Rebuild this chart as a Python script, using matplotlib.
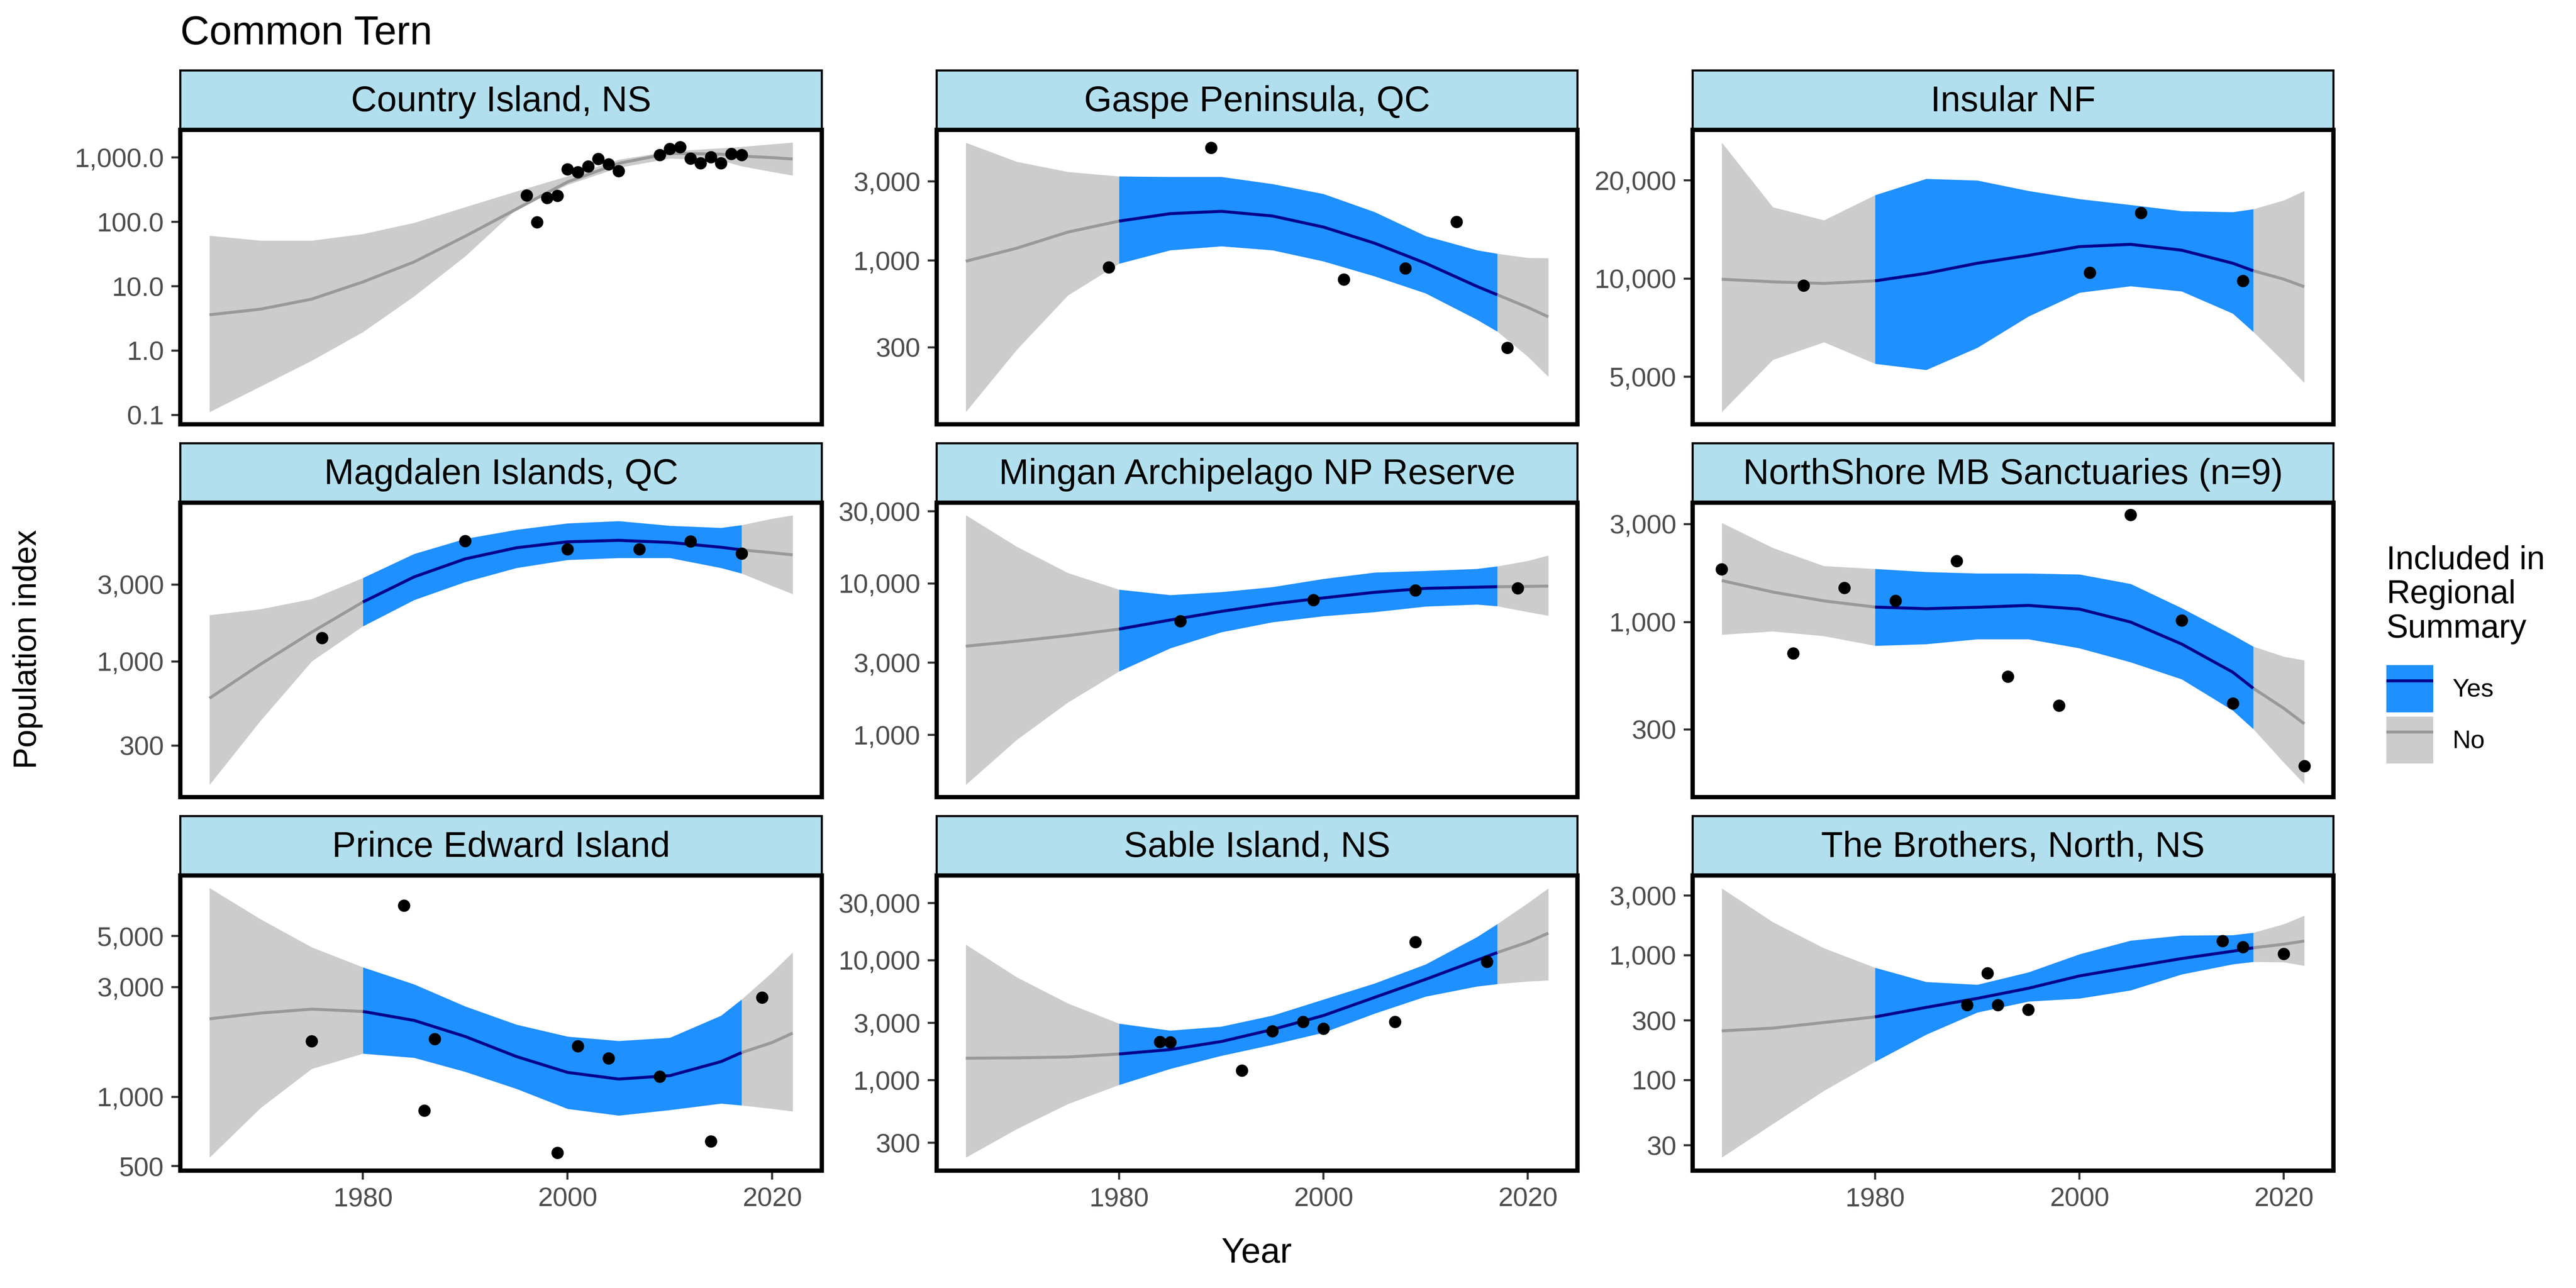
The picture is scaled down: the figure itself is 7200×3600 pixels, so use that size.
import numpy as np
import matplotlib
matplotlib.use("Agg")
import matplotlib.pyplot as plt
from matplotlib.patches import Patch
from matplotlib.lines import Line2D
from matplotlib.legend_handler import HandlerTuple

plt.rcParams['font.family'] = ['Liberation Sans', 'DejaVu Sans']

years = [1965, 1970, 1975, 1980, 1985, 1990, 1995, 2000, 2005, 2010, 2015, 2017, 2020, 2022]

# all index values below are log10(population index)
country_fit = [0.556, 0.644, 0.800, 1.067, 1.378, 1.778, 2.200, 2.622, 2.911, 3.067, 3.053, 3.022, 3.000, 2.978]
country_up = [1.787, 1.711, 1.711, 1.813, 1.987, 2.231, 2.476, 2.711, 2.969, 3.098, 3.147, 3.169, 3.209, 3.236]
country_lo = [-0.956, -0.556, -0.156, 0.289, 0.844, 1.467, 2.200, 2.578, 2.844, 2.987, 2.956, 2.867, 2.778, 2.724]
country_x = [1996, 1997, 1998, 1999, 2000, 2001, 2002, 2003, 2004, 2005, 2009, 2010, 2011, 2012, 2013, 2014, 2015, 2016, 2017]
country_y = [2.413, 1.996, 2.373, 2.409, 2.818, 2.773, 2.862, 2.978, 2.898, 2.791, 3.044, 3.138, 3.164, 2.987, 2.911, 3.009, 2.911, 3.058, 3.044]

gaspe_fit = [2.996, 3.075, 3.172, 3.238, 3.283, 3.297, 3.269, 3.202, 3.105, 2.984, 2.845, 2.794, 2.718, 2.661]
gaspe_up = [3.711, 3.596, 3.535, 3.508, 3.505, 3.505, 3.462, 3.402, 3.293, 3.148, 3.063, 3.042, 3.017, 3.015]
gaspe_lo = [2.088, 2.464, 2.791, 2.982, 3.063, 3.087, 3.063, 2.996, 2.906, 2.803, 2.645, 2.573, 2.421, 2.300]
gaspe_x = [1979, 1989, 2002, 2008, 2013, 2018]
gaspe_y = [2.960, 3.680, 2.887, 2.954, 3.234, 2.475]

insular_fit = [3.998, 3.990, 3.985, 3.993, 4.016, 4.047, 4.071, 4.098, 4.105, 4.087, 4.047, 4.024, 3.998, 3.975]
insular_up = [4.417, 4.219, 4.179, 4.256, 4.306, 4.301, 4.269, 4.244, 4.226, 4.207, 4.204, 4.213, 4.240, 4.269]
insular_lo = [3.591, 3.751, 3.805, 3.739, 3.720, 3.788, 3.884, 3.957, 3.977, 3.961, 3.893, 3.837, 3.745, 3.680]
insular_x = [1973, 2001, 2006, 2016]
insular_y = [3.979, 4.018, 4.201, 3.993]

magdalen_fit = [2.771, 2.983, 3.182, 3.369, 3.525, 3.637, 3.706, 3.743, 3.752, 3.739, 3.709, 3.693, 3.675, 3.662]
magdalen_up = [3.288, 3.325, 3.388, 3.519, 3.668, 3.762, 3.818, 3.858, 3.872, 3.843, 3.830, 3.847, 3.887, 3.908]
magdalen_lo = [2.234, 2.633, 3.001, 3.219, 3.382, 3.494, 3.581, 3.631, 3.643, 3.643, 3.581, 3.547, 3.469, 3.419]
magdalen_x = [1976, 1990, 2000, 2007, 2012, 2017]
magdalen_y = [3.147, 3.748, 3.697, 3.697, 3.746, 3.671]

mingan_fit = [3.586, 3.619, 3.656, 3.699, 3.759, 3.816, 3.865, 3.905, 3.942, 3.968, 3.976, 3.979, 3.981, 3.983]
mingan_up = [4.452, 4.243, 4.070, 3.960, 3.924, 3.944, 3.977, 4.031, 4.073, 4.084, 4.097, 4.114, 4.150, 4.186]
mingan_lo = [2.671, 2.969, 3.215, 3.420, 3.573, 3.679, 3.745, 3.785, 3.812, 3.849, 3.862, 3.851, 3.812, 3.788]
mingan_x = [1986, 1999, 2009, 2019]
mingan_y = [3.752, 3.890, 3.955, 3.968]

north_fit = [3.202, 3.146, 3.103, 3.073, 3.065, 3.072, 3.081, 3.063, 3.000, 2.893, 2.756, 2.678, 2.580, 2.505]
north_up = [3.483, 3.361, 3.273, 3.259, 3.244, 3.237, 3.237, 3.232, 3.186, 3.068, 2.937, 2.881, 2.832, 2.814]
north_lo = [2.939, 2.955, 2.932, 2.885, 2.893, 2.917, 2.917, 2.873, 2.805, 2.722, 2.570, 2.480, 2.316, 2.212]
north_x = [1965, 1972, 1977, 1982, 1988, 1993, 1998, 2005, 2010, 2015, 2022]
north_y = [3.257, 2.848, 3.167, 3.104, 3.298, 2.735, 2.594, 3.521, 3.008, 2.604, 2.299]

pei_fit = [3.339, 3.364, 3.381, 3.371, 3.332, 3.262, 3.175, 3.106, 3.077, 3.092, 3.153, 3.192, 3.236, 3.277]
pei_up = [3.908, 3.772, 3.650, 3.563, 3.489, 3.393, 3.314, 3.262, 3.243, 3.257, 3.353, 3.423, 3.541, 3.628]
pei_lo = [2.736, 2.952, 3.122, 3.188, 3.170, 3.109, 3.035, 2.948, 2.919, 2.943, 2.971, 2.963, 2.948, 2.937]
pei_x = [1975, 1984, 1986, 1987, 1999, 2001, 2004, 2009, 2014, 2019]
pei_y = [3.242, 3.831, 2.940, 3.251, 2.757, 3.220, 3.168, 3.088, 2.806, 3.431]

sable_fit = [3.183, 3.186, 3.193, 3.218, 3.255, 3.322, 3.422, 3.539, 3.690, 3.841, 4.000, 4.064, 4.151, 4.226]
sable_up = [4.131, 3.858, 3.640, 3.472, 3.414, 3.447, 3.539, 3.673, 3.807, 3.966, 4.193, 4.302, 4.477, 4.600]
sable_lo = [2.355, 2.593, 2.802, 2.961, 3.095, 3.204, 3.296, 3.397, 3.556, 3.698, 3.782, 3.802, 3.824, 3.832]
sable_x = [1984, 1985, 1992, 1995, 1998, 2000, 2007, 2009, 2016]
sable_y = [3.320, 3.317, 3.080, 3.410, 3.487, 3.430, 3.486, 4.151, 3.987]

brothers_fit = [2.394, 2.416, 2.461, 2.506, 2.582, 2.654, 2.735, 2.834, 2.904, 2.973, 3.032, 3.059, 3.088, 3.113]
brothers_up = [3.535, 3.265, 3.056, 2.900, 2.786, 2.764, 2.863, 3.008, 3.117, 3.158, 3.161, 3.180, 3.249, 3.317]
brothers_lo = [1.381, 1.650, 1.915, 2.148, 2.365, 2.542, 2.630, 2.654, 2.719, 2.847, 2.928, 2.947, 2.944, 2.916]
brothers_x = [1989, 1991, 1992, 1995, 2014, 2016, 2020]
brothers_y = [2.601, 2.855, 2.601, 2.564, 3.113, 3.064, 3.011]

names = ["Country Island, NS", "Gaspe Peninsula, QC", "Insular NF",
         "Magdalen Islands, QC", "Mingan Archipelago NP Reserve", "NorthShore MB Sanctuaries (n=9)",
         "Prince Edward Island", "Sable Island, NS", "The Brothers, North, NS"]
fits = [country_fit, gaspe_fit, insular_fit, magdalen_fit, mingan_fit, north_fit, pei_fit, sable_fit, brothers_fit]
uppers = [country_up, gaspe_up, insular_up, magdalen_up, mingan_up, north_up, pei_up, sable_up, brothers_up]
lowers = [country_lo, gaspe_lo, insular_lo, magdalen_lo, mingan_lo, north_lo, pei_lo, sable_lo, brothers_lo]
point_x = [country_x, gaspe_x, insular_x, magdalen_x, mingan_x, north_x, pei_x, sable_x, brothers_x]
point_y = [country_y, gaspe_y, insular_y, magdalen_y, mingan_y, north_y, pei_y, sable_y, brothers_y]
included = [False, True, True, True, True, True, True, True, True]

y_ticks = [[0.1, 1, 10, 100, 1000], [300, 1000, 3000], [5000, 10000, 20000],
           [300, 1000, 3000], [1000, 3000, 10000, 30000], [300, 1000, 3000],
           [500, 1000, 3000, 5000], [300, 1000, 3000, 10000, 30000], [30, 100, 300, 1000, 3000]]
y_limits = [(-1.147, 3.431), (2.013, 3.788), (3.553, 4.456),
            (2.157, 3.986), (2.589, 4.534), (2.148, 3.581),
            (2.679, 3.962), (2.245, 4.707), (1.275, 3.638)]

fig_w, fig_h = 7200, 3600
col_edges = [(504, 2297), (2618, 4409), (4731, 6522)]
row_edges = [(363, 1186), (1405, 2228), (2447, 3272)]
strip_h = 166
dpi = 300

BLUE = "#1E90FF"
NAVY = "#00008B"
GREY_FILL = "#CCCCCC"
GREY_LINE = "#999999"
STRIP = "#B2DFEE"
TICK_TEXT = "#4D4D4D"
TICK_LINE = "#333333"


def box(left, right, top, bottom):
    return [left / fig_w, 1 - bottom / fig_h, (right - left) / fig_w, (bottom - top) / fig_h]


fig = plt.figure(figsize=(fig_w / dpi, fig_h / dpi), dpi=dpi, facecolor="white")
yrs = np.array(years)

for i in range(9):
    row, col = i // 3, i % 3
    left, right = col_edges[col]
    top, bottom = row_edges[row]

    strip_ax = fig.add_axes(box(left, right, top - strip_h, top), zorder=1)
    strip_ax.set_facecolor(STRIP)
    strip_ax.set_xticks([])
    strip_ax.set_yticks([])
    for sp in strip_ax.spines.values():
        sp.set_linewidth(1.4)
    strip_ax.text(0.5, 0.47, names[i], transform=strip_ax.transAxes, ha="center", va="center",
                  fontsize=24, color="black")

    ax = fig.add_axes(box(left, right, top, bottom), zorder=2)
    fit = 10 ** np.array(fits[i])
    up = 10 ** np.array(uppers[i])
    lo = 10 ** np.array(lowers[i])

    ax.fill_between(yrs, lo, up, color=GREY_FILL, linewidth=0, zorder=1)
    ax.plot(yrs, fit, color=GREY_LINE, linewidth=2, zorder=2, solid_capstyle="butt")
    if included[i]:
        m = (yrs >= 1980) & (yrs <= 2017)
        ax.fill_between(yrs[m], lo[m], up[m], color=BLUE, linewidth=0, zorder=3)
        ax.plot(yrs[m], fit[m], color=NAVY, linewidth=2, zorder=4, solid_capstyle="butt")
    ax.scatter(point_x[i], 10 ** np.array(point_y[i]), s=68, color="black", linewidths=0, zorder=5)

    ax.set_yscale("log")
    ax.set_xlim(1962.15, 2024.85)
    ax.set_ylim(10 ** y_limits[i][0], 10 ** y_limits[i][1])
    ax.minorticks_off()
    ax.set_yticks(y_ticks[i])
    if i == 0:
        ax.set_yticklabels([f"{v:,.1f}" for v in y_ticks[i]])
    else:
        ax.set_yticklabels([f"{v:,}" for v in y_ticks[i]])
    ax.tick_params(axis="y", which="minor", left=False)
    ax.tick_params(axis="y", length=6, width=1.4, color=TICK_LINE, labelcolor=TICK_TEXT, labelsize=18, pad=5)
    if row == 2:
        ax.set_xticks([1980, 2000, 2020])
        ax.tick_params(axis="x", length=6, width=1.4, color=TICK_LINE, labelcolor=TICK_TEXT, labelsize=18, pad=5)
    else:
        ax.set_xticks([])
    for sp in ax.spines.values():
        sp.set_linewidth(2.9)
        sp.set_zorder(10)

fig.text(504 / fig_w, 1 - 124 / fig_h, "Common Tern", fontsize=27, ha="left", va="baseline")
fig.text(3513 / fig_w, 1 - 3504 / fig_h, "Year", fontsize=23.5, ha="center", va="center")
fig.text(78 / fig_w, 1 - 1815 / fig_h, "Population index", fontsize=21.7, rotation=90, ha="center", va="center")

# legend: filled key with the smooth line on top
yes_key = (Patch(facecolor=BLUE, linewidth=0), Line2D([], [], color=NAVY, linewidth=2, solid_capstyle="butt"))
no_key = (Patch(facecolor=GREY_FILL, linewidth=0), Line2D([], [], color=GREY_LINE, linewidth=2, solid_capstyle="butt"))
leg = fig.legend([yes_key, no_key], ["Yes", "No"], handler_map={tuple: HandlerTuple(ndivide=1, pad=0)},
                 title="Included in\nRegional\nSummary", title_fontsize=22, fontsize=17, frameon=False,
                 loc="upper left", bbox_to_anchor=(6670 / fig_w, 1 - 1524 / fig_h), borderpad=0, borderaxespad=0,
                 handlelength=1.85, handleheight=2.48, handletextpad=0.75, labelspacing=0.17, alignment="left")
leg.get_title().set_linespacing(1.14)
leg._legend_box.sep = 14

fig.savefig("out.png", dpi=dpi)
